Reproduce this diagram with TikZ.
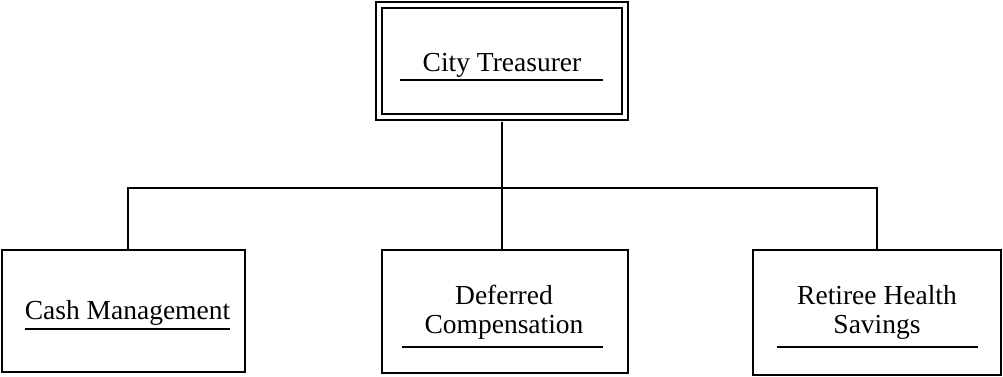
\documentclass[tikz,border=0pt]{standalone}
\usepackage{fontspec}
\setmainfont{Liberation Serif}
\usetikzlibrary{positioning}

\tikzset{
  unitbox/.style={draw, line width=2.2pt, inner sep=0pt},
  headbox/.style={draw, double, line width=2pt, double distance=4pt, inner sep=0pt},
  unitlabel/.style={anchor=base, align=center, inner sep=0pt, font=\fontsize{27.5}{29}\selectfont},
  uline/.style={line width=2.2pt},
  link/.style={line width=2.2pt}
}

\begin{document}
\begin{tikzpicture}[x=1pt,y=1pt]

\useasboundingbox (0,0) rectangle (1003,377);

% boxes
\node[headbox, minimum width=245.5pt, minimum height=112.5pt] (treasurer) at (501.75,315.75) {};
\node[unitbox, minimum width=243pt, minimum height=122pt] (cash) at (123.5,66) {};
\node[unitbox, minimum width=246pt, minimum height=123pt] (deferred) at (505,65.5) {};
\node[unitbox, minimum width=248pt, minimum height=125pt] (retiree) at (877,64.5) {};

% texts (base = last line)
\node[unitlabel] (treasurertxt) at (502,305) {City Treasurer};
\node[unitlabel] (cashtxt) at (127.5,57) {Cash Management};
\node[unitlabel] (deferredtxt) at (504,43) {Deferred\\Compensation};
\node[unitlabel] (retireetxt) at (877,43) {Retiree Health\\Savings};

% underlines
\draw[uline] (400,297) -- (603,297);
\draw[uline] (25,48) -- (230,48);
\draw[uline] (402,30) -- (603,30);
\draw[uline] (777,30) -- (978,30);

% connectors
\coordinate (bus) at (501,189);
\draw[link] ([yshift=-4pt]treasurer.south) -- (treasurer.south |- deferred.north);
\draw[link] ([xshift=4.5pt]cash.north) |- (bus) -| (retiree.north);

\end{tikzpicture}
\end{document}
